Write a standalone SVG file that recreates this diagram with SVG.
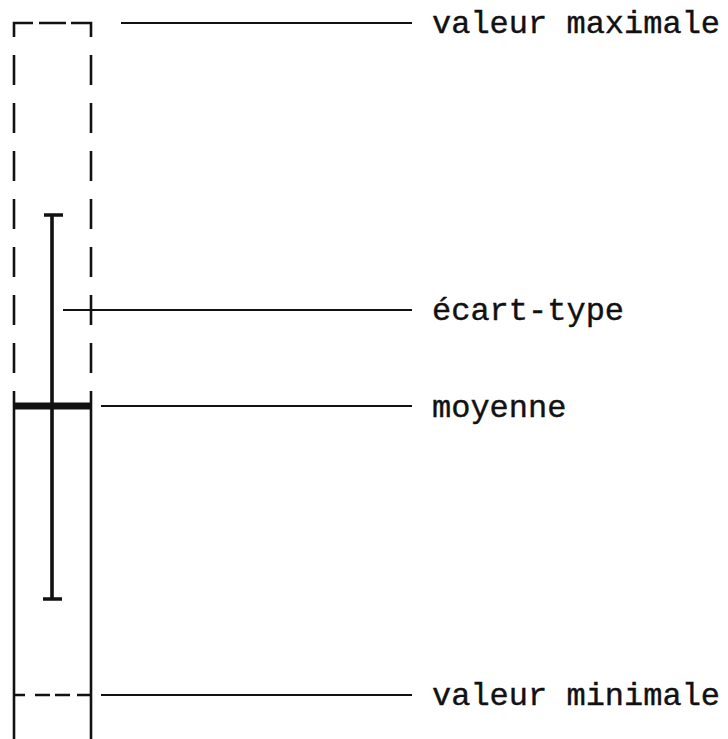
<svg xmlns="http://www.w3.org/2000/svg" width="728" height="739" viewBox="0 0 728 739">
<style>
.box{stroke:#111;stroke-width:2.6;fill:none;stroke-linecap:butt}
.bar{stroke:#111;stroke-width:3.6;fill:none}
.lead{stroke:#111;stroke-width:2;fill:none}
.lbl{font-family:"Liberation Mono","Courier New",monospace;font-size:32px;fill:#111;stroke:#111;stroke-width:0.4}
</style>
<rect width="728" height="739" fill="#fff"/>
<g id="range-box">
<path class="box" d="M14,37 V23 H33 M39,23 H66 M71,23 H91 V37"/>
<path class="box" d="M14,55 V85 M14,103 V133 M14,151 V181 M14,199 V229 M14,247 V277 M14,295 V325 M14,343 V373 M14,391 V739"/>
<path class="box" d="M91,55 V85 M91,103 V133 M91,151 V181 M91,199 V229 M91,247 V277 M91,295 V325 M91,343 V373 M91,391 V739"/>
<path class="box" d="M14,695 H25 M35,695 H50 M55,695 H70 M77,695 H91"/>
</g>
<g id="std-bar">
<path class="bar" d="M52,215 V599 M44,215 H63 M43,599 H62"/>
</g>
<g id="mean-bar">
<path stroke="#111" stroke-width="7" d="M14,406 H91"/>
</g>
<g id="connectors">
<path class="lead" d="M121,23 H412"/>
<path class="lead" d="M63,310 H412"/>
<path class="lead" d="M101,406 H412"/>
<path class="lead" d="M101,695 H412"/>
</g>
<g id="labels">
<text class="lbl" x="432" y="33">valeur maximale</text>
<text class="lbl" x="432" y="320">écart-type</text>
<text class="lbl" x="432" y="417">moyenne</text>
<text class="lbl" x="432" y="705">valeur minimale</text>
</g>
</svg>
